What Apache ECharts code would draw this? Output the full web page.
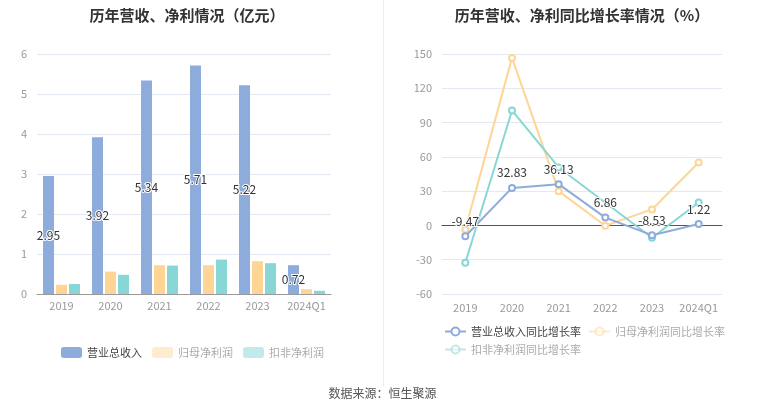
<!DOCTYPE html>
<html><head><meta charset="utf-8">
<script src="https://cdn.jsdelivr.net/npm/echarts@6/dist/echarts.min.js"></script>
<style>html,body{margin:0;padding:0;background:#fff}#c{width:765px;height:413px}</style>
</head><body><div id="c"></div>
<script>
var categories = ['2019','2020','2021','2022','2023','2024Q1'];
var revenue = [2.95, 3.92, 5.34, 5.71, 5.22, 0.72];
var netProfit = [0.23, 0.56, 0.72, 0.72, 0.82, 0.12];
var deductedProfit = [0.25, 0.48, 0.71, 0.86, 0.77, 0.08];
var revenueGrowth = [-9.47, 32.83, 36.13, 6.86, -8.53, 1.22];
var netProfitGrowth = [-3.5, 146.6, 30.0, -0.3, 14.0, 55.1];
var deductedGrowth = [-32.7, 100.6, 50.7, null, -10.8, 20.1];
var leftTicks = [0, 6, 1];
var rightTicks = [-60, 150, 30];

var C_BLUE = '#8eacdb', C_ORANGE = '#ffd596', C_TEAL = '#88d6d6';
var chart = echarts.init(document.getElementById('c'));
var fontFam = '"Noto Sans CJK SC", "Noto Sans", sans-serif';
chart.setOption({
  textStyle: {fontFamily: fontFam},
  animation: false,
  title: [
    {text: '历年营收、净利情况（亿元）', left: 182, top: 3, textAlign: 'center',
     textStyle: {fontSize: 15, fontWeight: 'bold', color: '#333', fontFamily: fontFam}},
    {text: '历年营收、净利同比增长率情况（%）', left: 577, top: 3, textAlign: 'center',
     textStyle: {fontSize: 15, fontWeight: 'bold', color: '#333', fontFamily: fontFam}}
  ],
  graphic: [
    {type: 'line', shape: {x1: 383.5, y1: 0, x2: 383.5, y2: 386}, style: {stroke: '#eeeeee', lineWidth: 1}},
    {type: 'text', left: 'center', top: 387, style: {text: '数据来源：恒生聚源', fill: '#555', fontSize: 12, fontFamily: fontFam}}
  ],
  grid: [
    {left: 37, width: 294, top: 54, height: 240},
    {left: 442, width: 280, top: 54, height: 240}
  ],
  legend: [
    {left: 56, top: 342, itemWidth: 21, itemHeight: 11, itemGap: 10,
     textStyle: {fontSize: 11, color: '#aaa'},
     data: [
       {name: '营业总收入', textStyle: {color: '#444'}},
       {name: '归母净利润', itemStyle: {opacity: 0.45}},
       {name: '扣非净利润', itemStyle: {opacity: 0.5}}
     ]},
    {left: 439, top: 321, width: 300, itemWidth: 21, itemHeight: 10, itemGap: 7,
     textStyle: {fontSize: 11, color: '#aaa'},
     data: [
       {name: '营业总收入同比增长率', textStyle: {color: '#444'}},
       {name: '归母净利润同比增长率', itemStyle: {opacity: 0.5}, lineStyle: {opacity: 0.5}},
       {name: '扣非净利润同比增长率', itemStyle: {opacity: 0.5}, lineStyle: {opacity: 0.5}}
     ]}
  ],
  xAxis: [
    {type: 'category', gridIndex: 0, data: categories,
     axisLine: {lineStyle: {color: '#999'}},
     axisTick: {alignWithLabel: true, lineStyle: {color: '#999'}},
     axisLabel: {color: '#999', fontSize: 11, margin: 6, interval: 0}},
    {type: 'category', gridIndex: 1, data: categories,
     axisLine: {onZero: false, show: false},
     axisTick: {show: false},
     axisLabel: {color: '#999', fontSize: 11, margin: 8, interval: 0}},
    {type: 'category', gridIndex: 1, data: categories, position: 'bottom',
     axisLine: {onZero: true, lineStyle: {color: '#555'}},
     axisTick: {alignWithLabel: true, interval: 0, length: 4, lineStyle: {color: '#555'}},
     axisLabel: {show: false}}
  ],
  yAxis: [
    {type: 'value', gridIndex: 0, min: leftTicks[0], max: leftTicks[1], interval: leftTicks[2],
     axisLabel: {color: '#999', fontSize: 11, margin: 10},
     splitLine: {lineStyle: {color: '#e3e9f3'}}},
    {type: 'value', gridIndex: 1, min: rightTicks[0], max: rightTicks[1], interval: rightTicks[2],
     axisLabel: {color: '#999', fontSize: 11, margin: 10},
     splitLine: {lineStyle: {color: '#e3e9f3'}}}
  ],
  series: [
    {name: '营业总收入', type: 'bar', xAxisIndex: 0, yAxisIndex: 0, data: revenue,
     barWidth: 11, barGap: '18%', itemStyle: {color: C_BLUE},
     label: {show: true, position: 'inside', color: '#333', fontSize: 12,
             textBorderColor: '#fff', textBorderWidth: 2}},
    {name: '归母净利润', type: 'bar', xAxisIndex: 0, yAxisIndex: 0, data: netProfit,
     barWidth: 11, barGap: '18%', itemStyle: {color: C_ORANGE}},
    {name: '扣非净利润', type: 'bar', xAxisIndex: 0, yAxisIndex: 0, data: deductedProfit,
     barWidth: 11, barGap: '18%', itemStyle: {color: C_TEAL}},
    {name: '营业总收入同比增长率', type: 'line', xAxisIndex: 1, yAxisIndex: 1, data: revenueGrowth,
     symbol: 'emptyCircle', symbolSize: 6, z: 5,
     lineStyle: {width: 2, color: C_BLUE}, itemStyle: {color: C_BLUE},
     label: {show: true, position: 'top', distance: 5, color: '#333', fontSize: 12,
             textBorderColor: '#fff', textBorderWidth: 2}},
    {name: '归母净利润同比增长率', type: 'line', xAxisIndex: 1, yAxisIndex: 1, data: netProfitGrowth,
     symbol: 'emptyCircle', symbolSize: 6, z: 3,
     lineStyle: {width: 2, color: C_ORANGE}, itemStyle: {color: C_ORANGE}},
    {name: '扣非净利润同比增长率', type: 'line', xAxisIndex: 1, yAxisIndex: 1, data: deductedGrowth,
     symbol: 'emptyCircle', symbolSize: 6, connectNulls: true, z: 4,
     lineStyle: {width: 2, color: C_TEAL}, itemStyle: {color: C_TEAL}}
  ]
});
</script></body></html>
